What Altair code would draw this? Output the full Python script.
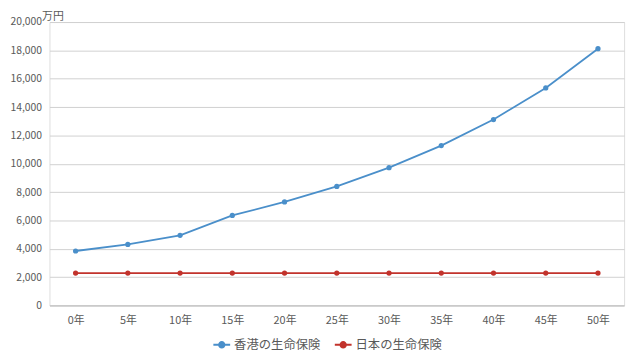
import altair as alt
import pandas as pd

years = ["0年", "5年", "10年", "15年", "20年", "25年", "30年", "35年", "40年", "45年", "50年"]
hk_values = [3840, 4300, 4950, 6350, 7300, 8400, 9720, 11280, 13120, 15350, 18120]
jp_values = [2280, 2280, 2280, 2280, 2280, 2280, 2280, 2280, 2280, 2280, 2280]
series_names = ["香港の生命保険", "日本の生命保険"]
series_colors = ["#4a8fca", "#c2332c"]
y_ticks = [0, 2000, 4000, 6000, 8000, 10000, 12000, 14000, 16000, 18000, 20000]

rows = []
for y, v in zip(years, hk_values):
    rows.append({"year": y, "value": v, "series": series_names[0]})
for y, v in zip(years, jp_values):
    rows.append({"year": y, "value": v, "series": series_names[1]})
df = pd.DataFrame(rows)

FONT = "Noto Sans CJK JP"
TXT = "#595959"

color_scale = alt.Scale(domain=series_names, range=series_colors)
legend = alt.Legend(
    title=None, orient="none", direction="horizontal", legendX=165, legendY=317,
    symbolType="M-1,0L1,0M-0.32,0A0.32,0.32,0,1,0,0.32,0A0.32,0.32,0,1,0,-0.32,0Z",
    symbolSize=289, symbolStrokeWidth=2, labelFont=FONT, labelFontSize=12.5,
    labelColor=TXT, columnPadding=10, labelOffset=3,
)

x_enc = alt.X("year:N", sort=years, scale=alt.Scale(type="point", padding=0.5),
              axis=alt.Axis(title=None, labelAngle=0, ticks=False, domain=True,
                            domainColor="#bfbfbf", domainWidth=1,
                            labelPadding=9, labelFont=FONT, labelFontSize=11, labelColor=TXT))
y_enc = alt.Y("value:Q", scale=alt.Scale(domain=[0, 20000], nice=False),
              axis=alt.Axis(values=y_ticks, format=",d", ticks=False, domain=False,
                            labelOverlap=False,
                            labelPadding=8, labelFont=FONT, labelFontSize=10.5, labelColor=TXT,
                            gridColor="#d0d0d0", gridWidth=1,
                            title="万円", titleAngle=0, titleX=-8, titleY=-5.5,
                            titleAlign="left", titleBaseline="middle",
                            titleFont=FONT, titleFontSize=11, titleFontWeight="normal",
                            titleColor=TXT))

base = alt.Chart(df)
lines = base.mark_line(strokeWidth=1.8).encode(
    x=x_enc, y=y_enc,
    stroke=alt.Color("series:N", scale=color_scale, sort=series_names, legend=legend),
)
points = base.mark_point(filled=True, size=28, opacity=1).encode(
    x=x_enc, y=y_enc,
    fill=alt.Color("series:N", scale=color_scale, sort=series_names, legend=legend),
)

chart = alt.layer(lines, points).properties(
    width=582, height=287,
    autosize=alt.AutoSizeParams(type="none"),
    padding={"left": 42, "top": 12, "right": 8, "bottom": 47},
).configure_view(stroke=None).configure(background="white")

chart.save("out.html", embed_options={"renderer": "svg", "actions": False})
